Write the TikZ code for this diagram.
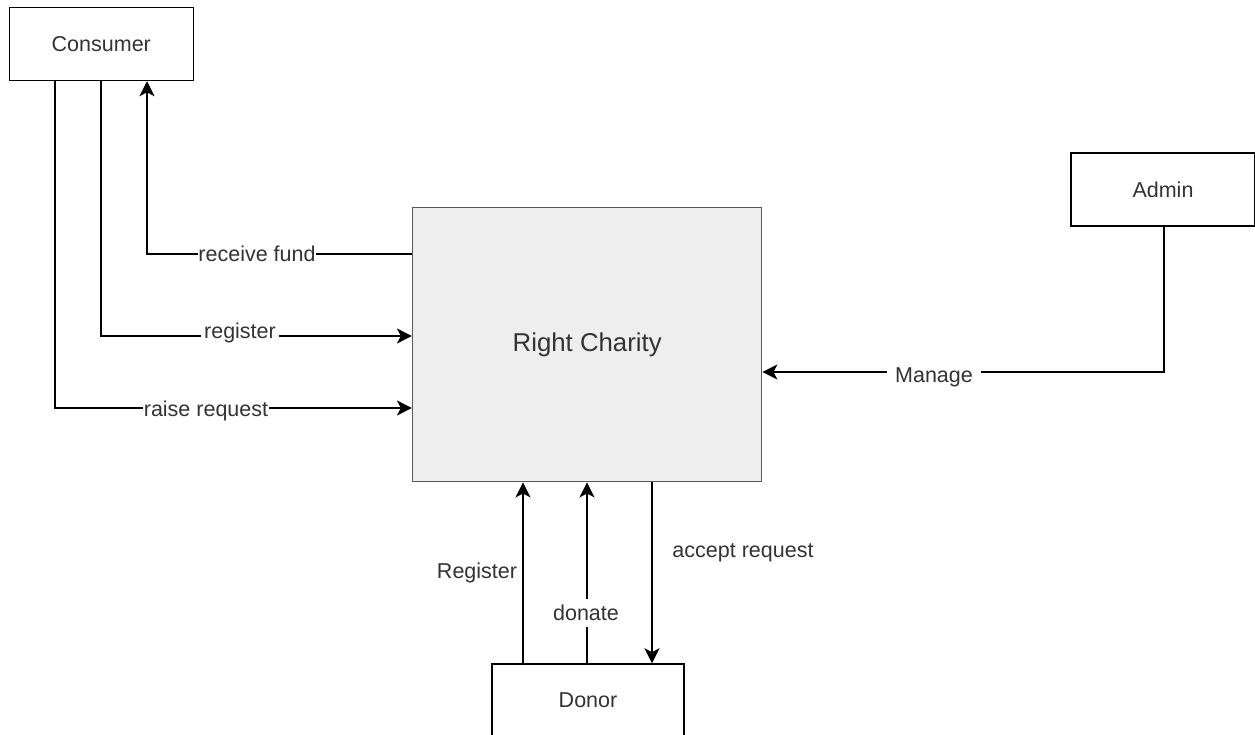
\documentclass[tikz,border=0pt]{standalone}
\usepackage{fontspec}
\setmainfont{Liberation Sans}
\usetikzlibrary{arrows.meta}
\definecolor{txt}{RGB}{51,51,51}
\definecolor{rcfill}{RGB}{238,238,238}
\definecolor{rcline}{RGB}{90,90,90}
\tikzset{
  entity/.style={draw=black, line width=1.5pt, fill=white, rectangle, minimum width=184pt, minimum height=73pt, inner sep=0pt, text=txt, font=\fontsize{21.5}{25}\selectfont},
  proc/.style={draw=rcline, line width=1.5pt, fill=rcfill, rectangle, minimum width=349pt, minimum height=274pt, inner sep=0pt, text=txt, font=\fontsize{25.8}{30}\selectfont},
  flow/.style={line width=1.5pt, draw=black, -{Stealth[length=15pt,width=15pt,inset=4pt]}},
  lbl/.style={fill=white, text=txt, inner sep=0.5pt, font=\fontsize{21.5}{25}\selectfont},
}
\begin{document}
\begin{tikzpicture}[x=1pt,y=-1pt]
\useasboundingbox (0,0) rectangle (1255,735);
\node[entity] (cons) at (101.3,44) {Consumer};
\node[proc] (rc) at (587.2,344.7) {Right Charity};
\node[entity] (admin) at (1163,189.5) {Admin};
\node[entity, minimum width=192pt] (donor) at (588,700.5) {Donor};
% consumer flows
\draw[flow] (rc.west |- 0,254) -| (cons.south -| 147,0);
\draw[flow] (cons.south -| 101,0) |- (rc.west |- 0,336);
\draw[flow] (cons.south -| 55,0) |- (rc.west |- 0,408);
% admin
\draw[flow] (admin.south -| 1164,0) |- (rc.east |- 0,372);
% donor
\draw[flow] (donor.north -| 523,0) -- (rc.south -| 523,0);
\draw[flow] (donor.north -| 587,0) -- (rc.south -| 587,0);
\draw[flow] (rc.south -| 652,0) -- (donor.north -| 652,0);
% labels
\node[lbl] (l1) at (257,254) {receive fund};
\node[lbl, inner xsep=3pt] (l2) at (240,333) {register };
\node[lbl] (l3) at (206,411) {raise request};
\node[lbl, inner xsep=8pt] (l4) at (934,377) {Manage};
\node[lbl] (l5) at (477,573) {Register};
\node[lbl, inner ysep=6pt] (l6) at (586,613) {donate};
\node[lbl] (l7) at (743,553) {accept request};
\end{tikzpicture}
\end{document}
